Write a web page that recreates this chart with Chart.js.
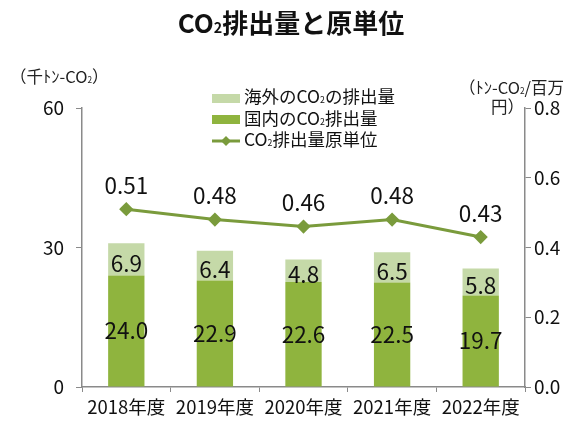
<!DOCTYPE html>
<html lang="ja">
<head>
  <meta charset="UTF-8">
  <title>CO2排出量と原単位</title>
  <script src="https://cdn.jsdelivr.net/npm/chart.js"></script>
  <style>
    body {
      margin: 0;
      width: 582px;
      height: 422px;
      background: #fff;
      font-family: 'Noto Sans CJK JP', sans-serif;
      position: relative;
      overflow: hidden;
    }
    #wrap { position: absolute; left: 0; top: 0; width: 582px; height: 422px; }
    .title {
      position: absolute; left: 0; width: 582px; top: 3px;
      text-align: center; font-weight: bold; font-size: 26px; color: #111;
    }
    .sub { font-size: 55%; }
    .unit { position: absolute; font-size: 16.5px; color: #222; white-space: nowrap; }
    .legend { position: absolute; left: 212px; top: 85px; font-size: 17.5px; color: #111; }
    .legend div { height: 21.5px; line-height: 21.5px; white-space: nowrap; }
    .sw { display: inline-block; width: 28px; height: 9px; margin-right: 4px; vertical-align: middle; }
    .sub2 { font-size: 50%; }
  </style>
</head>
<body>
  <div id="wrap"><canvas id="chart" width="582" height="422"></canvas></div>
  <div class="title">CO<span class="sub">2</span>排出量と原単位</div>
  <div class="unit" style="left:10px; top:64px;">（千ﾄﾝ-CO<span class="sub2">2</span>）</div>
  <div class="unit" style="right:18px; top:75px;">（ﾄﾝ-CO<span class="sub2">2</span>/百万</div>
  <div class="unit" style="right:58px; top:94px;">円）</div>
  <div class="legend">
    <div><span class="sw" style="background:#c5d9a8"></span>海外のCO<span class="sub2">2</span>の排出量</div>
    <div><span class="sw" style="background:#8fb43e"></span>国内のCO<span class="sub2">2</span>排出量</div>
    <div><svg width="28" height="10" style="vertical-align:middle;margin-right:4px"><line x1="0" y1="5" x2="28" y2="5" stroke="#7a9b3c" stroke-width="3"/><path d="M14 0 L19 5 L14 10 L9 5 Z" fill="#7a9b3c"/></svg>CO<span class="sub2">2</span>排出量原単位</div>
  </div>

  <script>
    const years = ['2018年度', '2019年度', '2020年度', '2021年度', '2022年度'];
    const domestic = [24.0, 22.9, 22.6, 22.5, 19.7];
    const overseas = [6.9, 6.4, 4.8, 6.5, 5.8];
    const intensity = [0.51, 0.48, 0.46, 0.48, 0.43];
    const leftTicks = [0, 30, 60];
    const rightTicks = [0.0, 0.2, 0.4, 0.6, 0.8];

    const FONT = "'Noto Sans CJK JP', sans-serif";
    const axisColor = '#8a8a8a';

    // draws the number labels on bars and line
    const valueLabels = {
      id: 'valueLabels',
      afterDatasetsDraw(chart) {
        const ctx = chart.ctx;
        ctx.save();
        ctx.font = '22.5px ' + FONT;
        ctx.fillStyle = '#111';
        ctx.textAlign = 'center';
        ctx.textBaseline = 'middle';
        chart.data.datasets.forEach((ds, i) => {
          const meta = chart.getDatasetMeta(i);
          meta.data.forEach((el, j) => {
            const v = ds.data[j];
            if (ds.type === 'line') {
              ctx.fillText(v.toFixed(2), el.x, el.y - 24);
            } else {
              const mid = (el.y + el.base) / 2;
              ctx.fillText(v.toFixed(1), el.x, i === 1 ? mid + 4 : mid);
            }
          });
        });
        ctx.restore();
      }
    };

    new Chart(document.getElementById('chart'), {
      type: 'bar',
      data: {
        labels: years,
        datasets: [
          { type: 'line', label: 'CO2排出量原単位', data: intensity, yAxisID: 'y1',
            borderColor: '#7a9b3c', backgroundColor: '#7a9b3c', borderWidth: 3,
            pointStyle: 'rectRot', pointRadius: 5, pointHoverRadius: 5, order: 0 },
          { label: '海外のCO2の排出量', data: overseas, backgroundColor: '#c5d9a8',
            stack: 's', yAxisID: 'y', order: 2, barPercentage: 0.41, categoryPercentage: 1 },
          { label: '国内のCO2排出量', data: domestic, backgroundColor: '#8fb43e',
            stack: 's', yAxisID: 'y', order: 1, barPercentage: 0.41, categoryPercentage: 1 }
        ]
      },
      options: {
        responsive: false,
        animation: false,
        layout: { padding: { top: 108, left: 0, right: 0, bottom: 0 } },
        plugins: { legend: { display: false }, tooltip: { enabled: false } },
        scales: {
          x: {
            stacked: true,
            offset: true,
            grid: { display: true, drawOnChartArea: false, offset: true, tickLength: 5, color: axisColor },
            border: { color: axisColor, width: 1.5 },
            ticks: { color: '#111', font: { family: FONT, size: 18.5 }, padding: 4 },
            afterFit: s => { s.height = 35; }
          },
          y: {
            stacked: true,
            position: 'left',
            min: 0, max: 60,
            afterBuildTicks: s => { s.ticks = leftTicks.map(v => ({ value: v })); },
            grid: { display: true, drawOnChartArea: false, tickLength: 6, color: axisColor },
            border: { color: axisColor, width: 1.5 },
            ticks: { color: '#111', font: { family: FONT, size: 19 }, padding: 12 },
            afterFit: s => { s.width = 82; }
          },
          y1: {
            position: 'right',
            min: 0, max: 0.8,
            afterBuildTicks: s => { s.ticks = rightTicks.map(v => ({ value: v })); },
            grid: { display: true, drawOnChartArea: false, tickLength: 6, color: axisColor },
            border: { color: axisColor, width: 1.5 },
            ticks: { color: '#111', font: { family: FONT, size: 19 }, padding: 3,
                     callback: v => Number(v).toFixed(1) },
            afterFit: s => { s.width = 57; }
          }
        }
      },
      plugins: [valueLabels]
    });
  </script>
</body>
</html>
